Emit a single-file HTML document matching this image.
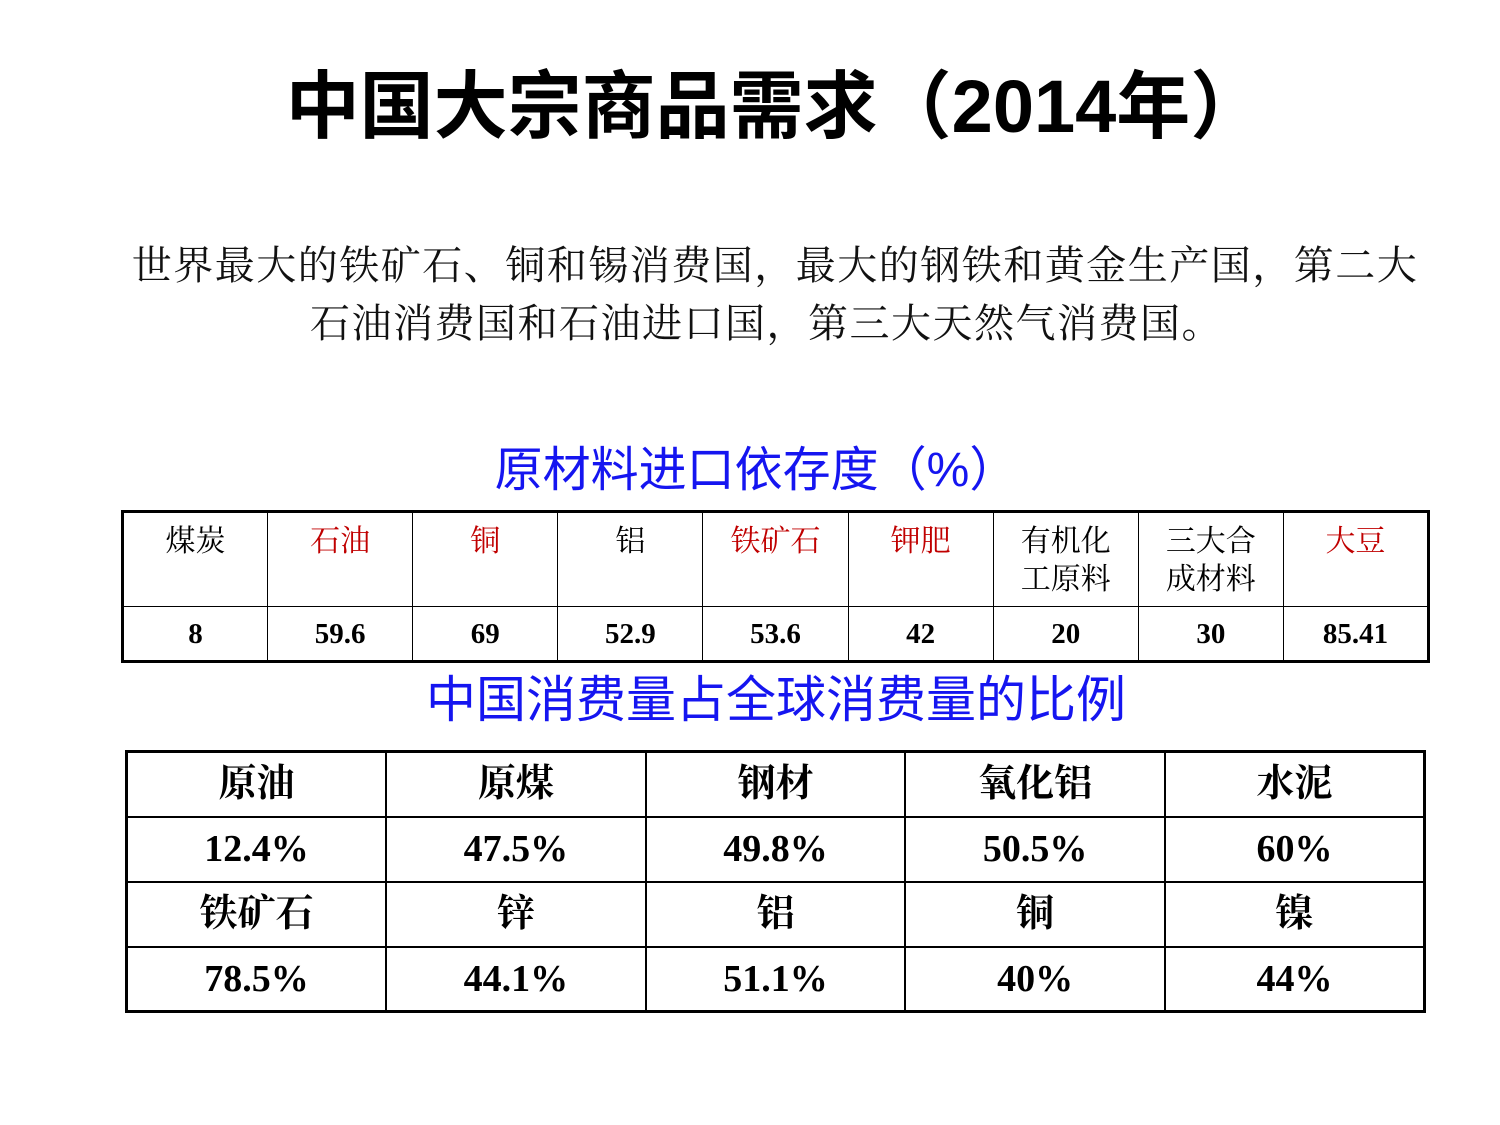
<!DOCTYPE html>
<html><head><meta charset="utf-8"><style>
body{margin:0;width:1500px;height:1125px;background:#fff;position:relative;overflow:hidden;font-family:"Liberation Sans","Noto Sans CJK SC",sans-serif}
.abs{position:absolute}
#title{left:0;width:1550px;top:62px;text-align:center;font-size:74px;font-weight:bold;color:#000;white-space:nowrap;line-height:90px}
.para{left:0;width:1550px;text-align:center;font-family:"Noto Serif CJK SC",serif;font-size:40px;letter-spacing:1.5px;color:#111;white-space:nowrap;line-height:50px}
.sub{left:0;text-align:center;color:#1515f0;white-space:nowrap}
table{border-collapse:collapse;position:absolute;table-layout:fixed}
#t1{left:121px;top:510px;width:1309px;border:3px solid #000}
#t1 td{border:1.5px solid #000;text-align:center;font-size:30px;font-family:"Liberation Serif","Noto Serif CJK SC",serif;box-sizing:border-box;padding:0}
#t1 tr.h td{height:95px;vertical-align:top;padding-top:10px;line-height:38px}
#t1 tr.d td{height:55px;font-weight:bold;font-size:29px;line-height:30px}
.red{color:#c00000}
#t2{left:125px;top:750px;width:1301px;border:3px solid #000}
#t2 td{border:2px solid #000;height:65px;box-sizing:border-box;padding:0;line-height:40px;text-align:center;font-size:38px;font-weight:bold;font-family:"Liberation Serif","Noto Serif CJK SC",serif}
</style></head><body>
<div id="title" class="abs">中国大宗商品需求（2014年）</div>
<div class="abs para" style="top:238px">世界最大的铁矿石、铜和锡消费国，最大的钢铁和黄金生产国，第二大</div>
<div class="abs para" style="top:296px;width:1533px">石油消费国和石油进口国，第三大天然气消费国。</div>
<div class="abs sub" style="top:442px;width:1512px;font-size:48px;line-height:58px">原材料进口依存度（%）</div>
<table id="t1">
<tr class="h"><td>煤炭</td><td class="red">石油</td><td class="red">铜</td><td>铝</td><td class="red">铁矿石</td><td class="red">钾肥</td><td>有机化<br>工原料</td><td>三大合<br>成材料</td><td class="red">大豆</td></tr>
<tr class="d"><td>8</td><td>59.6</td><td>69</td><td>52.9</td><td>53.6</td><td>42</td><td>20</td><td>30</td><td>85.41</td></tr>
</table>
<div class="abs sub" style="top:670px;width:1552px;font-size:50px;line-height:60px">中国消费量占全球消费量的比例</div>
<table id="t2">
<tr><td>原油</td><td>原煤</td><td>钢材</td><td>氧化铝</td><td>水泥</td></tr>
<tr><td>12.4%</td><td>47.5%</td><td>49.8%</td><td>50.5%</td><td>60%</td></tr>
<tr><td>铁矿石</td><td>锌</td><td>铝</td><td>铜</td><td>镍</td></tr>
<tr><td>78.5%</td><td>44.1%</td><td>51.1%</td><td>40%</td><td>44%</td></tr>
</table>
</body></html>
